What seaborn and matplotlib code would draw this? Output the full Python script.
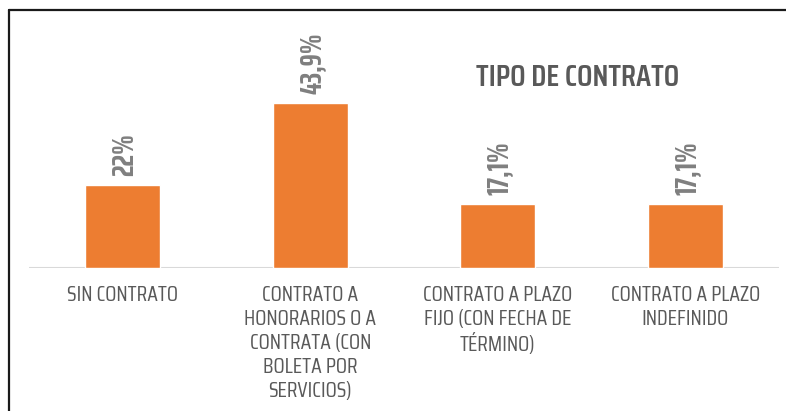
import matplotlib
matplotlib.use("Agg")
import matplotlib.pyplot as plt
from matplotlib.lines import Line2D
import seaborn as sns
import pandas as pd

categories = [
    "SIN CONTRATO",
    "CONTRATO A\nHONORARIOS O A\nCONTRATA (CON\nBOLETA POR\nSERVICIOS)",
    "CONTRATO A PLAZO\nFIJO (CON FECHA DE\nTÉRMINO)",
    "CONTRATO A PLAZO\nINDEFINIDO",
]
values = [22, 43.9, 17.1, 17.1]
title = "TIPO DE CONTRATO"

sns.set_theme(style="white")
plt.rcParams["font.family"] = ["Saira Condensed", "DejaVu Sans"]

df = pd.DataFrame({"cat": categories, "val": values})

fig = plt.figure(figsize=(7.86, 4.11), dpi=100)
ax = fig.add_axes([29 / 786, 1 - 268 / 411, 750 / 786, 248 / 411])

sns.barplot(data=df, x="cat", y="val", color="#ED7D31", saturation=1,
            width=0.4, ax=ax)

ax.set_xlim(-0.5, 3.5)
ax.set_ylim(0, 66)
ax.axhline(0, color="#D9D9D9", linewidth=1.5, zorder=0)
for s in ax.spines.values():
    s.set_visible(False)
ax.set_yticks([])
ax.set_xlabel("")
ax.set_ylabel("")
ax.tick_params(axis="x", length=0, pad=12, labelsize=15.5, labelcolor="#595959")
for lab in ax.get_xticklabels():
    lab.set_linespacing(1.25)
    lab.set_family(["Saira Condensed", "DejaVu Sans"])

for i, v in enumerate(values):
    txt = f"{v:g}".replace(".", ",") + "%"
    ax.annotate(txt, xy=(i, v), xytext=(1.2, 6.5), textcoords="offset points",
                rotation=90, ha="center", va="bottom", fontsize=22,
                fontweight="bold", color="#7F7F7F",
                family=["Saira ExtraCondensed", "DejaVu Sans"])

fig.text(578 / 786, 1 - 77.5 / 411, title, ha="center", va="center",
         fontsize=22, fontweight="semibold", color="#595959",
         family=["Saira Condensed", "DejaVu Sans"])

# outer frame lines (left and top)
fig.add_artist(Line2D([9 / 786, 9 / 786], [0, 1 - 10.5 / 411],
                      transform=fig.transFigure, color="#1a1a1a", linewidth=1.6))
fig.add_artist(Line2D([9 / 786, 1], [1 - 10.5 / 411, 1 - 10.5 / 411],
                      transform=fig.transFigure, color="#1a1a1a", linewidth=1.6))

fig.savefig("out.png", dpi=100)
